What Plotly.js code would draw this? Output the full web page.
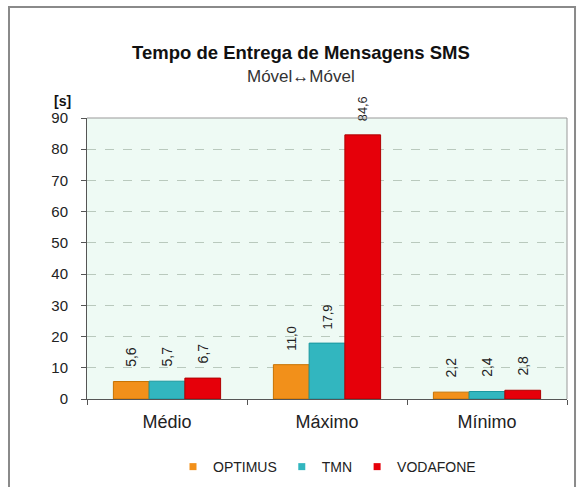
<!DOCTYPE html>
<html><head><meta charset="utf-8">
<script src="https://cdn.plot.ly/plotly-3.0.1.min.js"></script>
<style>body{margin:0;background:#fff}#c{width:581px;height:487px}</style>
</head><body><div id="c"></div>
<script>
const categories = ["Médio", "Máximo", "Mínimo"];
const optimus = [5.6, 11.0, 2.2];
const tmn = [5.7, 17.9, 2.4];
const vodafone = [6.7, 84.6, 2.8];
const yTicks = [0,10,20,30,40,50,60,70,80,90];
const seriesNames = ["OPTIMUS", "TMN", "VODAFONE"];

const font = "Liberation Sans, Arial, sans-serif";
const colors = ['#f2901a', '#32b6bf', '#e6000a'];
const lines = ['#c87200', '#1a979f', '#b00000'];
function tr(i, vals){
  return {type:'bar', name:seriesNames[i], x:categories, y:vals, showlegend:false,
    marker:{color:colors[i], line:{color:lines[i], width:1}},
    text: vals, texttemplate:'\u00a0\u00a0\u00a0%{y:.1f}', textposition:'outside',
    textangle:-90, cliponaxis:false,
    textfont:{family:font, size:14, color:'#222'}};
}
function leg(i){
  return {type:'scatter', mode:'markers', name:seriesNames[i], x:[null], y:[null],
    marker:{symbol:'square', size:7, color:colors[i]}, showlegend:true};
}
const data = [tr(0, optimus), tr(1, tmn), tr(2, vodafone), leg(0), leg(1), leg(2)];
const layout = {
  width:581, height:487,
  margin:{l:87, r:14, t:118, b:88},
  paper_bgcolor:'#ffffff', plot_bgcolor:'#eefaf4',
  separators:',.',
  font:{family:font, size:14, color:'#222'},
  barmode:'group', bargap:0.33, bargroupgap:0,
  showlegend:true,
  legend:{orientation:'h', x:0.5, xanchor:'center', yref:'container', y:0.041, yanchor:'middle',
    font:{family:font, size:14, color:'#222'}, itemwidth:30, traceorder:'normal'},
  xaxis:{type:'category', showgrid:false, showline:true, linecolor:'#555', linewidth:1,
    ticks:'outside', tickson:'boundaries', ticklen:5, tickcolor:'#555', ticklabelstandoff:6,
    automargin:false, fixedrange:true,
    tickfont:{family:font, size:18, color:'#222'}, mirror:false},
  yaxis:{range:[0,90], tickvals:yTicks, showline:true, linecolor:'#555', linewidth:1,
    ticks:'outside', ticklen:5, tickcolor:'#555', ticklabelstandoff:10, automargin:false,
    gridcolor:'#b9c9bd', griddash:'dash', gridwidth:1, zeroline:false,
    tickfont:{family:font, size:15, color:'#222'}},
  shapes:[
    {type:'line', xref:'paper', yref:'paper', x0:1, x1:1, y0:0, y1:1, line:{color:'#999', width:1}},
    {type:'line', xref:'paper', yref:'paper', x0:0, x1:1, y0:1, y1:1, line:{color:'#999', width:1}},
    {type:'rect', xref:'paper', yref:'paper', x0:-0.1625, x1:1.0167, y0:-0.5, y1:1.395,
     line:{color:'#8a8a8a', width:2}, fillcolor:'rgba(0,0,0,0)', layer:'below'}
  ],
  annotations:[
    {xref:'paper', yref:'paper', x:0.446, y:1.278, text:'<b>Tempo de Entrega de Mensagens SMS</b>',
     showarrow:false, font:{family:font, size:18.5, color:'#111'}},
    {xref:'paper', yref:'paper', x:0.446, y:1.189, text:'Móvel↔Móvel',
     showarrow:false, font:{family:font, size:17, color:'#333'}},
    {xref:'paper', yref:'paper', x:-0.073, y:1.096, text:'<b>[s]</b>',
     showarrow:false, font:{family:font, size:14, color:'#111'}}
  ]
};
Plotly.newPlot('c', data, layout, {displayModeBar:false, staticPlot:true});
</script></body></html>
